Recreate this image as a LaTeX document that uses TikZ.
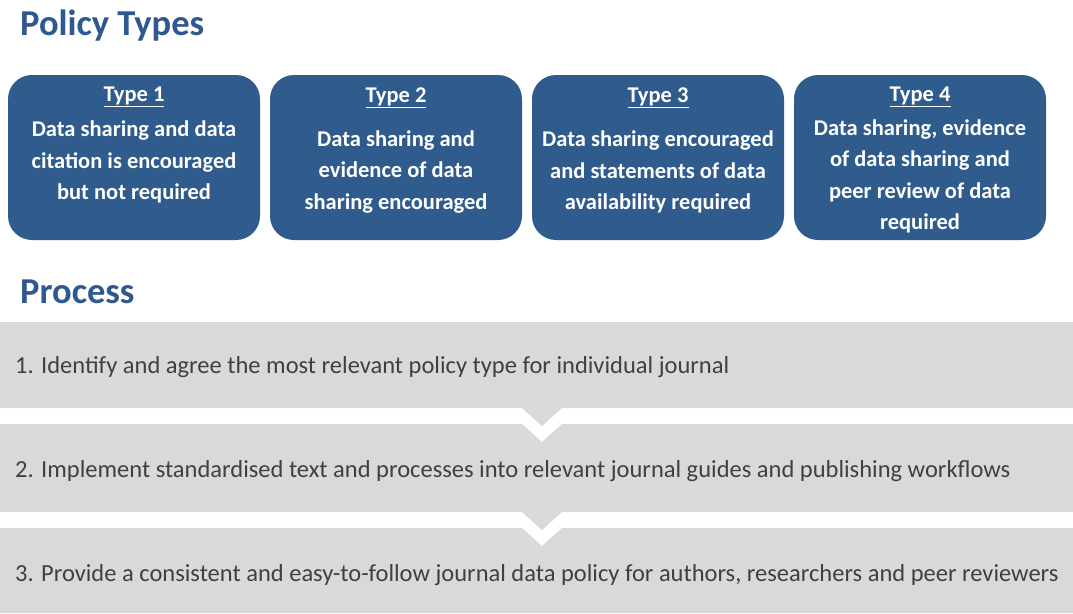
\documentclass[tikz,border=0pt]{standalone}
\usepackage{fontspec}
\setmainfont{Carlito}
\definecolor{boxblue}{HTML}{2F5B8D}
\definecolor{titleblue}{HTML}{2F5890}
\definecolor{bandgray}{HTML}{D9D9D9}
\definecolor{bandtext}{HTML}{404040}
\tikzset{
  typebox/.style={fill=boxblue, draw=none, rounded corners=24pt, minimum width=252pt, minimum height=165pt, inner sep=0pt},
  typehead/.style={text=white, font=\fontsize{22.5}{26}\selectfont\bfseries, inner sep=0pt},
  typebody/.style={text=white, font=\fontsize{22.5}{31.5}\selectfont\bfseries, align=center, inner sep=0pt},
  sectitle/.style={text=titleblue, font=\fontsize{36.5}{40}\selectfont\bfseries, anchor=base west, inner sep=0pt},
  band/.style={fill=bandgray, draw=none},
  bandlabel/.style={text=bandtext, font=\fontsize{24.5}{28}\selectfont, anchor=west, inner sep=0pt},
}
\begin{document}
\begin{tikzpicture}[x=1pt,y=-1pt]
\useasboundingbox (0,0) rectangle (1073,613);
\fill[white] (0,0) rectangle (1073,613);
% titles
\node[sectitle] (t1) at (20,35) {Policy Types};
\node[sectitle] (t2) at (20,303) {Process};
% type boxes
\node[typebox] (box1) at (134,157.5) {};
\node[typebox] (box2) at (396,157.5) {};
\node[typebox] (box3) at (658,157.5) {};
\node[typebox] (box4) at (920,157.5) {};
\node[typehead] (h1) at (134,97) {\underline{Type 1}};
\node[typehead] (h2) at (396,98) {\underline{Type 2}};
\node[typehead] (h3) at (658,98) {\underline{Type 3}};
\node[typehead] (h4) at (920,97) {\underline{Type 4}};
\node[typebody] (b1) at (134,162) {Data sharing and data\\citation is encouraged\\but not required};
\node[typebody] (b2) at (396,172) {Data sharing and\\evidence of data\\sharing encouraged};
\node[typebody] (b3) at (658,172) {Data sharing encouraged\\and statements of data\\availability required};
\node[typebody] (b4) at (920,176.5) {Data sharing, evidence\\of data sharing and\\peer review of data\\required};
% process bands
\fill[band] (0,322) -- (1073,322) -- (1073,408) -- (562,408) -- (542,426) -- (522,408) -- (0,408) -- cycle;
\fill[band] (0,424) -- (522,424) -- (542,442) -- (562,424) -- (1073,424) -- (1073,512) -- (562,512) -- (542,530) -- (522,512) -- (0,512) -- cycle;
\fill[band] (0,528) -- (522,528) -- (542,546) -- (562,528) -- (1073,528) -- (1073,613) -- (0,613) -- cycle;
\node[bandlabel] (p1) at (15,367.5) {1. Identify and agree the most relevant policy type for individual journal};
\node[bandlabel] (p2) at (15,471.5) {2. Implement standardised text and processes into relevant journal guides and publishing workflows};
\node[bandlabel] (p3) at (15,575.5) {3. Provide a consistent and easy-to-follow journal data policy for authors, researchers and peer reviewers};
\end{tikzpicture}
\end{document}
